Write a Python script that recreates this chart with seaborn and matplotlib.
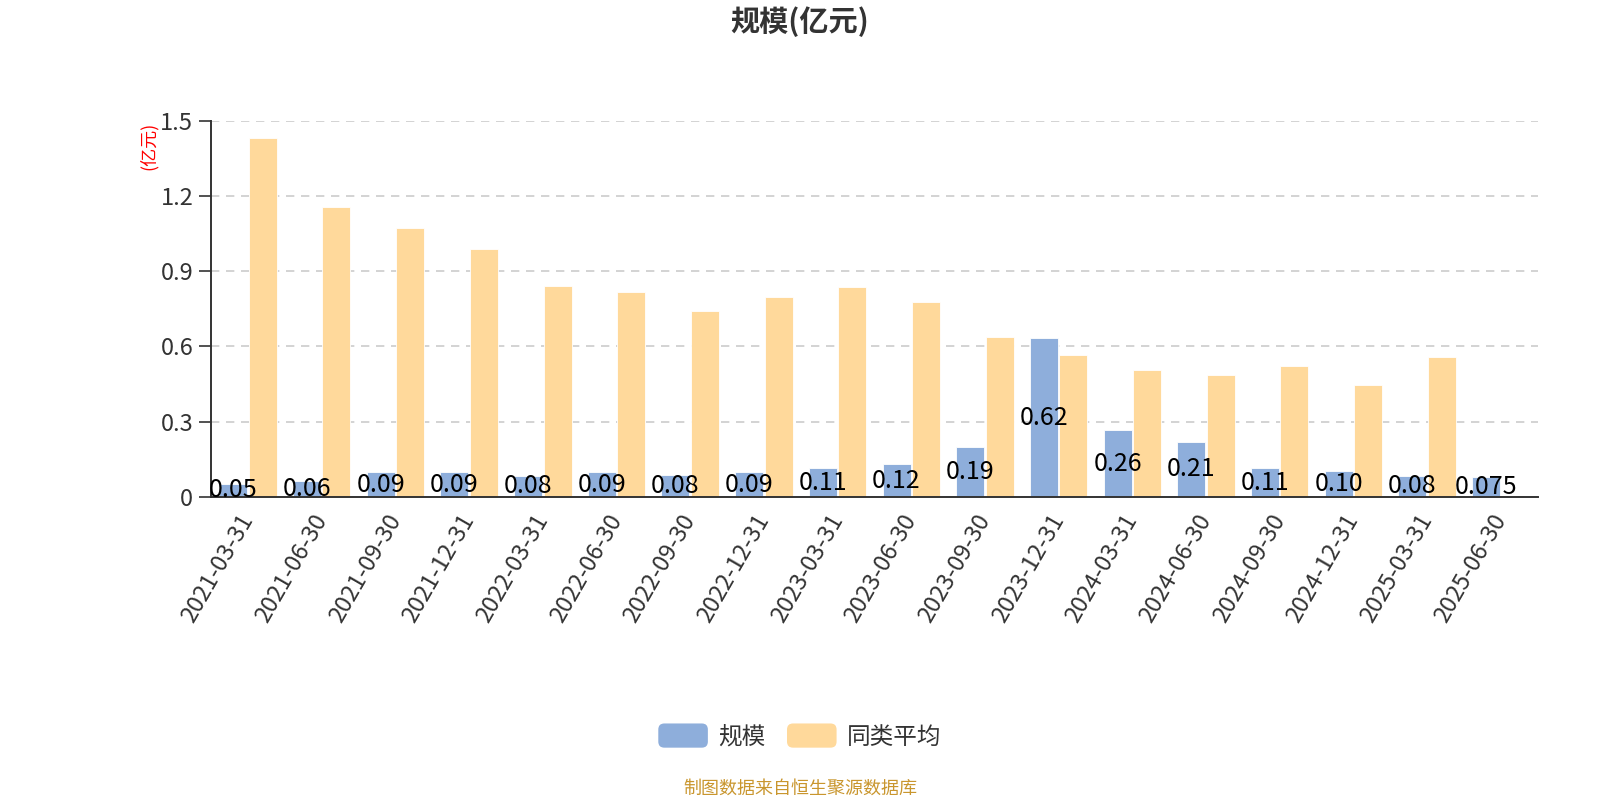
import matplotlib
matplotlib.use("Agg")
import matplotlib.pyplot as plt
import numpy as np
import pandas as pd
import seaborn as sns
from matplotlib.legend_handler import HandlerPatch
from matplotlib.patches import FancyBboxPatch, Patch

dates = [
    "2021-03-31", "2021-06-30", "2021-09-30", "2021-12-31",
    "2022-03-31", "2022-06-30", "2022-09-30", "2022-12-31",
    "2023-03-31", "2023-06-30", "2023-09-30", "2023-12-31",
    "2024-03-31", "2024-06-30", "2024-09-30", "2024-12-31",
    "2025-03-31", "2025-06-30",
]
scale = [0.053, 0.062, 0.098, 0.098, 0.084, 0.097, 0.088, 0.097, 0.114,
         0.130, 0.199, 0.632, 0.265, 0.218, 0.114, 0.104, 0.084, 0.077]
scale_labels = ["0.05", "0.06", "0.09", "0.09", "0.08", "0.09", "0.08", "0.09", "0.11",
                "0.12", "0.19", "0.62", "0.26", "0.21", "0.11", "0.10", "0.08", "0.075"]
peer_avg = [1.433, 1.157, 1.072, 0.989, 0.840, 0.819, 0.741, 0.797, 0.836,
            0.779, 0.637, 0.566, 0.505, 0.485, 0.520, 0.447, 0.556, np.nan]

BLUE = "#8eaedb"
YELLOW = "#ffd99b"

df = pd.DataFrame({
    "date": dates * 2,
    "value": scale + peer_avg,
    "series": ["规模"] * len(dates) + ["同类平均"] * len(dates),
})


class RoundHandler(HandlerPatch):
    def create_artists(self, legend, orig_handle, xdescent, ydescent, width, height, fontsize, trans):
        p = FancyBboxPatch((-xdescent, -ydescent), width, height,
                           boxstyle="round,pad=0,rounding_size=%f" % (height * 0.25),
                           facecolor=orig_handle.get_facecolor(), edgecolor="none",
                           transform=trans)
        return [p]


sns.set_style("white")
plt.rcParams["font.family"] = ["Noto Sans CJK SC", "DejaVu Sans"]

fig = plt.figure(figsize=(16, 8), dpi=100)
ax = fig.add_axes([0.132, 0.379, 0.829, 0.470])

sns.barplot(
    data=df, x="date", y="value", hue="series",
    palette={"规模": BLUE, "同类平均": YELLOW}, saturation=1,
    width=0.8, gap=0.05, edgecolor="white", linewidth=0.6,
    ax=ax, legend=False, errorbar=None,
)

# value labels in the middle of the blue bars
blue_bars = ax.containers[0]
for bar, txt in zip(blue_bars, scale_labels):
    ax.text(bar.get_x() + bar.get_width() / 2, bar.get_height() / 2, txt,
            ha="center", va="center", fontsize=18, color="black", zorder=5)

ax.set_xlim(-0.5, len(dates) - 0.5)
ax.set_ylim(0, 1.5)
ax.set_yticks([0, 0.3, 0.6, 0.9, 1.2, 1.5])
ax.set_yticklabels(["0", "0.3", "0.6", "0.9", "1.2", "1.5"])
ax.set_xticks(range(len(dates)))
ax.set_xticklabels(dates, rotation=60, ha="right", va="center", rotation_mode="anchor")
ax.set_xticks(np.arange(-0.5, len(dates)), minor=True)
ax.tick_params(axis="x", which="major", length=0, pad=14, labelsize=17, labelcolor="#333333")
ax.tick_params(axis="x", which="minor", length=7, width=1.2, color="#333333", direction="out")
ax.tick_params(axis="y", length=9, width=1.2, color="#333333", labelsize=17,
               labelcolor="#333333", pad=4, left=True)
ax.set_xlabel("")
ax.set_ylabel("")

ax.yaxis.grid(True, linestyle=(0, (5, 4)), color="#cccccc", linewidth=1.2)
ax.set_axisbelow(True)
for s in ["top", "right"]:
    ax.spines[s].set_visible(False)
for s in ["left", "bottom"]:
    ax.spines[s].set_color("#333333")
    ax.spines[s].set_linewidth(1.4)

fig.text(0.5, 1 - 22 / 800, "规模(亿元)", ha="center", va="center",
         fontsize=21, fontweight="bold", color="#333333")
fig.text(149 / 1600, 1 - 146 / 800, "(亿元)", ha="center", va="center",
         rotation=90, fontsize=13, color="red")

handles = [Patch(facecolor=BLUE), Patch(facecolor=YELLOW)]
fig.legend(handles, ["规模", "同类平均"], loc="center", bbox_to_anchor=(0.5, 1 - 736 / 800),
           ncol=2, frameon=False, fontsize=17, handlelength=2.1, handleheight=1.2,
           handletextpad=0.45, columnspacing=0.9, labelcolor="#333333",
           handler_map={Patch: RoundHandler()})

fig.text(0.5, 1 - 789 / 800, "制图数据来自恒生聚源数据库", ha="center", va="center",
         fontsize=13, color="#c9962e")

fig.savefig("out.png", dpi=100)
